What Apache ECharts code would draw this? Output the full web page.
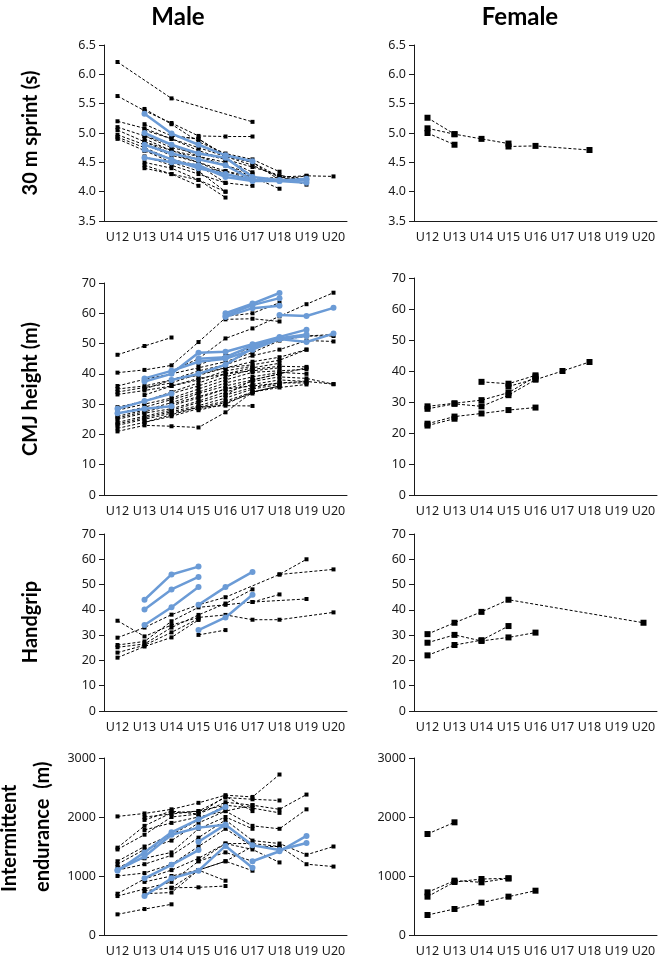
<!DOCTYPE html>
<html>
<head>
<meta charset="utf-8">
<script src="https://cdn.jsdelivr.net/npm/echarts@6/dist/echarts.min.js"></script>
<style>
  html, body { margin: 0; padding: 0; background: #fff; }
  #chart { width: 665px; height: 958px; }
</style>
</head>
<body>
<div id="chart"></div>
<script>
const N = null;
const ageGroups = ['U12', 'U13', 'U14', 'U15', 'U16', 'U17', 'U18', 'U19', 'U20'];

// 30 m sprint (s)
const sprintMaleBlack = [
  [6.21, N, 5.59, N, N, 5.19],
  [5.63, 5.38, 5.17, 4.95, 4.94, 4.94],
  [5.20, 5.08, 4.90, 4.75, 4.60, 4.45, 4.25, 4.27, 4.26],
  [5.10, 4.95, 4.80, 4.60, 4.50],
  [5.05, 4.85, 4.70, 4.55, 4.45, 4.30],
  [4.97, 4.80, 4.62, 4.50, 4.35, 4.20, 4.25, 4.12],
  [4.93, 4.75, 4.55, 4.45, 4.15],
  [4.90, 4.70, 4.50, 4.35, 4.00],
  [N, 5.41, 5.15, 4.85, 4.65, 4.55, 4.34],
  [N, 5.15, 4.95, 4.90, 4.60, 4.50, 4.20],
  [N, 5.05, 4.90, 4.70, 4.55, 4.42, 4.28, 4.20],
  [N, 4.95, 4.75, 4.65, 4.55, 4.33],
  [N, 4.90, 4.70, 4.60, 4.45, 4.25, 4.05],
  [N, 4.85, 4.65, 4.50, 4.30, 4.20],
  [N, 4.60, 4.45, 4.30, 4.15, 4.10],
  [N, 4.50, 4.40, 4.20, 3.90],
  [N, 4.45, 4.30, 4.10],
  [N, 4.40, 4.30, 4.20, 4.00],
  [N, 4.70, 4.55, 4.40, 4.35, 4.25, 4.20, 4.27],
  [N, N, 4.95, 4.90, 4.62, 4.50, 4.25, 4.20]
];
const sprintMaleBlue = [
  [N, 5.33, 4.99, 4.80, 4.62, 4.52],
  [N, 5.00, 4.80, 4.65, 4.58, 4.25, 4.20, 4.20],
  [N, 4.80, 4.65, 4.55, 4.45, 4.20, 4.18, 4.22],
  [N, 4.72, 4.55, 4.40, 4.30, 4.20],
  [N, 4.58, 4.50, 4.45, 4.25, 4.18, 4.18, 4.15]
];
const sprintFemale = [
  [5.26, 4.98, 4.90, 4.82],
  [5.08, 4.98],
  [5.00, 4.80],
  [N, N, N, 4.77, 4.78, N, 4.71]
];

// CMJ height (m)
const cmjMaleBlack = [
  [46.3, 49.2, 52.0],
  [40.4, 41.3, 42.8, 50.5, 58.5],
  [36.0, 38.2, 40.0, 42.0, 44.0, 47.0, 51.0, 52.5, 53.0],
  [35.0, 36.0, 38.0, 41.0, 43.0, 46.0, 48.0, 51.0, 50.7],
  [34.0, 35.5, 37.0, 40.0, 42.0, 44.0, 45.5, 48.0],
  [33.2, 34.5, 36.0, 38.5, 40.0, 42.0, 43.5],
  [29.0, 31.0, 33.5, 36.0, 39.0, 41.5, 42.5, 42.3],
  [28.0, 30.0, 32.0, 35.0, 38.0, 40.5, 41.0, 41.5],
  [27.0, 29.0, 31.5, 34.0, 37.0, 39.0, 40.5, 40.0],
  [26.0, 28.0, 30.5, 33.5, 36.0, 38.0, 40.0],
  [25.5, 27.5, 29.5, 32.0, 35.0, 37.5, 39.0, 38.5, 36.6],
  [25.0, 27.0, 28.5, 31.0, 34.0, 36.5, 38.0, 37.5],
  [24.0, 26.0, 28.0, 30.5, 33.0, 35.5, 37.0, 37.0],
  [23.5, 25.5, 27.5, 29.5, 32.0, 35.0, 36.5],
  [23.0, 25.0, 27.0, 29.0, 31.0, 34.0, 36.0],
  [22.0, 24.0, 26.0, 28.5, 30.5, 33.5],
  [21.0, 23.0, 22.7, 22.3, 27.3, 34.0, 36.0],
  [N, 24.0, 26.5, 29.0, 29.5, 29.4],
  [N, 35.0, 38.0, 39.5, 42.0, 43.0, 44.5, 48.0],
  [N, 33.0, 36.0, 38.0, 41.0, 42.5],
  [N, 31.0, 34.0, 37.0, 40.0, 41.0, 42.0],
  [N, N, 41.0, 45.0, 51.7, 55.0, 59.0, 63.0, 66.8],
  [N, N, N, N, 58.0, 58.2, 57.3],
  [N, N, N, N, 59.0, 60.0, 63.5],
  [N, N, N, 43.0, 46.0, 48.5, 51.5, 52.5, 52.5],
  [N, N, 30.0, 32.5, 35.0, 36.0, 37.0, 37.5, 36.6],
  [N, N, N, 28.0, 30.0, 34.0, 35.5, 36.5],
  [N, N, N, N, 33.0, 38.0, 40.0, 42.0]
];
const cmjMaleBlue = [
  [28.5, 31.0, 33.5],
  [27.0, 28.5, 29.3],
  [N, 38.5, 41.0, 44.0, 45.0, 48.0, 51.5, 52.5],
  [N, 37.5, 40.0, 47.0, 47.3, 49.8, 52.2, 54.6],
  [N, N, 38.0, 40.0, 43.0, 48.5, 51.8, 53.0],
  [N, N, N, 45.0, 45.5, 49.3, 51.5, 50.5, 53.3],
  [N, N, N, N, 60.0, 63.2, 66.7],
  [N, N, N, N, 59.2, 62.7, 65.0],
  [N, N, N, N, 58.8, 61.7, 62.5],
  [N, N, N, N, N, N, 59.4, 59.1, 61.8]
];
const cmjFemale = [
  [28.6, 29.6, 30.6, 33.0, 38.2],
  [27.8, 29.4, 28.6, 32.2, 37.2, 40.0, 42.9],
  [N, N, 36.5, 35.9, 38.6],
  [23.0, 25.3, 26.3, 27.4, 28.2],
  [22.4, 24.6],
  [N, N, N, 35.0, 37.5]
];

// Handgrip
const gripMaleBlack = [
  [35.7, 29.5, 34.0, 37.0, 38.0, 36.1, 36.1, N, 39.0],
  [29.0, 33.0, 38.1, 42.0, 45.0, N, 54.0, 60.0],
  [26.1, 27.5, 35.5, 41.0, 42.0, 43.1, N, 44.3],
  [25.2, 26.5, 33.0, 38.0, 42.5, 48.1],
  [23.1, 26.0, 31.1, 36.5],
  [21.1, 25.5, 29.1, 36.0],
  [N, N, N, 30.1, 32.0],
  [N, N, N, N, N, 43.1, 46.1],
  [N, N, N, N, N, N, 54.0, N, 56.0]
];
const gripMaleBlue = [
  [N, 44.0, 54.0, 57.1],
  [N, 40.1, 48.1, 53.0],
  [N, 34.0, 41.0, 49.0],
  [N, N, N, 42.0, 49.0, 55.0],
  [N, N, N, 32.0, 37.0, 46.0]
];
const gripFemale = [
  [30.4, 34.9, 39.2, 44.0, N, N, N, N, 34.9],
  [27.0, 30.1, 27.7, 29.1, 31.0],
  [22.0, 26.1, 28.0, 33.6]
];

// Intermittent endurance (m)
const enduranceMaleBlack = [
  [2010, 2060, 2130, 2240, 2370, 2340, 2720],
  [1480, 1850, 2070, 2100, 2330, 2300, 2280],
  [1450, 1700, 2000, 2050, 2250, 2200, 2130, 2380],
  [1250, 1500, 1700, 1950, 2200, 2150, 2070],
  [1200, 1450, 1600, 1900, 2100, 1850, 1800, 2130],
  [1150, 1300, 1400, 1800, 2000, 1800],
  [1100, 1200, 1350, 1650, 1950, 1600, 1550, 1360, 1500],
  [1000, 1050, 1200, 1500, 1800, 1500, 1500, 1200, 1160],
  [700, 950, 1100, 1300, 1550, 1450, 1230],
  [660, 780, 900, 1250, 1400, 1250],
  [350, 440, 520],
  [N, 2000, 2050, 2100, 2200],
  [N, 1950, 2100, 2050, 2350, 2100],
  [N, 1780, 1900, 2000, 2100, 2200],
  [N, 900, 1000, 1100, 1250, 1090],
  [N, 750, 800, 808, 830],
  [N, 700, 720, 1100, 920],
  [N, N, 800, 1100, 1250, 1500],
  [N, N, N, 1250, 1550, 1550, 1500]
];
const enduranceMaleBlue = [
  [1090, 1400, 1740, 1960, 2170],
  [1100, 1330, 1700, 1820, 1870, 1520, 1440, 1560],
  [N, 960, 1190, 1440],
  [N, 660, 960, 1090, 1510, 1140],
  [N, N, N, N, N, 1250, 1420, 1680],
  [N, N, N, 1580, 1870]
];
const enduranceFemale = [
  [1712, 1910],
  [723, 921, 893, 960],
  [650, 898, 949, 960],
  [339, 441, 548, 650, 751]
];

const tickFont = 'Noto Sans';
const titleFont = 'Lato';

const panels = [
  { grid: { left: 104, top: 45, width: 243, height: 176 }, min: 3.5, max: 6.5, step: 0.5, dec: 1, black: sprintMaleBlack, blue: sprintMaleBlue, size: 4 },
  { grid: { left: 414, top: 45, width: 243, height: 176 }, min: 3.5, max: 6.5, step: 0.5, dec: 1, black: sprintFemale, blue: [], size: 6 },
  { grid: { left: 104, top: 283, width: 243, height: 212 }, min: 0, max: 70, step: 10, dec: 0, black: cmjMaleBlack, blue: cmjMaleBlue, size: 4 },
  { grid: { left: 414, top: 278, width: 243, height: 217 }, min: 0, max: 70, step: 10, dec: 0, black: cmjFemale, blue: [], size: 6 },
  { grid: { left: 104, top: 534, width: 243, height: 177 }, min: 0, max: 70, step: 10, dec: 0, black: gripMaleBlack, blue: gripMaleBlue, size: 4 },
  { grid: { left: 414, top: 534, width: 243, height: 177 }, min: 0, max: 70, step: 10, dec: 0, black: gripFemale, blue: [], size: 6 },
  { grid: { left: 104, top: 758, width: 243, height: 177 }, min: 0, max: 3000, step: 1000, dec: 0, black: enduranceMaleBlack, blue: enduranceMaleBlue, size: 4 },
  { grid: { left: 414, top: 758, width: 243, height: 177 }, min: 0, max: 3000, step: 1000, dec: 0, black: enduranceFemale, blue: [], size: 6 }
];

const axisLine = { lineStyle: { color: '#1a1a1a', width: 1 } };
const grids = [], xAxes = [], yAxes = [], series = [];

panels.forEach(function (p, i) {
  grids.push(p.grid);
  xAxes.push({
    type: 'category', gridIndex: i, data: ageGroups, boundaryGap: true,
    axisLine: axisLine,
    axisTick: { alignWithLabel: true, length: 5, lineStyle: { color: '#1a1a1a' } },
    axisLabel: { color: '#1a1a1a', fontFamily: tickFont, fontSize: 12.5, margin: 10, interval: 0 },
    splitLine: { show: false }
  });
  yAxes.push({
    type: 'value', gridIndex: i, min: p.min, max: p.max, interval: p.step,
    axisLine: { show: true, lineStyle: axisLine.lineStyle },
    axisTick: { show: true, length: 5, lineStyle: { color: '#1a1a1a' } },
    axisLabel: { color: '#1a1a1a', fontFamily: tickFont, fontSize: 12.5, margin: 8,
      formatter: function (v) { return v.toFixed(p.dec); } },
    splitLine: { show: false }
  });
  p.black.forEach(function (row) {
    series.push({
      type: 'line', xAxisIndex: i, yAxisIndex: i, data: row,
      connectNulls: true, symbol: 'rect', symbolSize: p.size, z: 2,
      lineStyle: { color: '#000', width: 1, type: [3, 2] },
      itemStyle: { color: '#000' },
      silent: true
    });
  });
  p.blue.forEach(function (row) {
    series.push({
      type: 'line', xAxisIndex: i, yAxisIndex: i, data: row,
      connectNulls: true, symbol: 'circle', symbolSize: 6, z: 3,
      lineStyle: { color: '#6b9bd6', width: 2.5 },
      itemStyle: { color: '#6b9bd6' },
      silent: true
    });
  });
});

function label(text, x, y, rot, size, align) {
  return {
    type: 'text', x: x, y: y, rotation: rot, silent: true,
    style: { text: text, fontFamily: titleFont, fontWeight: 'bold', fontSize: size,
      fill: '#000', textAlign: align || 'center', textVerticalAlign: 'middle' }
  };
}

const chart = echarts.init(document.getElementById('chart'), null, { renderer: 'canvas' });
chart.setOption({
  animation: false,
  grid: grids,
  xAxis: xAxes,
  yAxis: yAxes,
  series: series,
  graphic: [
    label('Male', 178, 17, 0, 24),
    label('Female', 520, 17, 0, 24),
    label('30 m sprint (s)', 31, 133, Math.PI / 2, 20),
    label('CMJ height (m)', 31, 389, Math.PI / 2, 20),
    label('Handgrip', 31, 622, Math.PI / 2, 20),
    label('Intermittent', 10, 892, Math.PI / 2, 20, 'left'),
    label('endurance  (m)', 43, 892, Math.PI / 2, 20, 'left')
  ]
});
</script>
</body>
</html>
